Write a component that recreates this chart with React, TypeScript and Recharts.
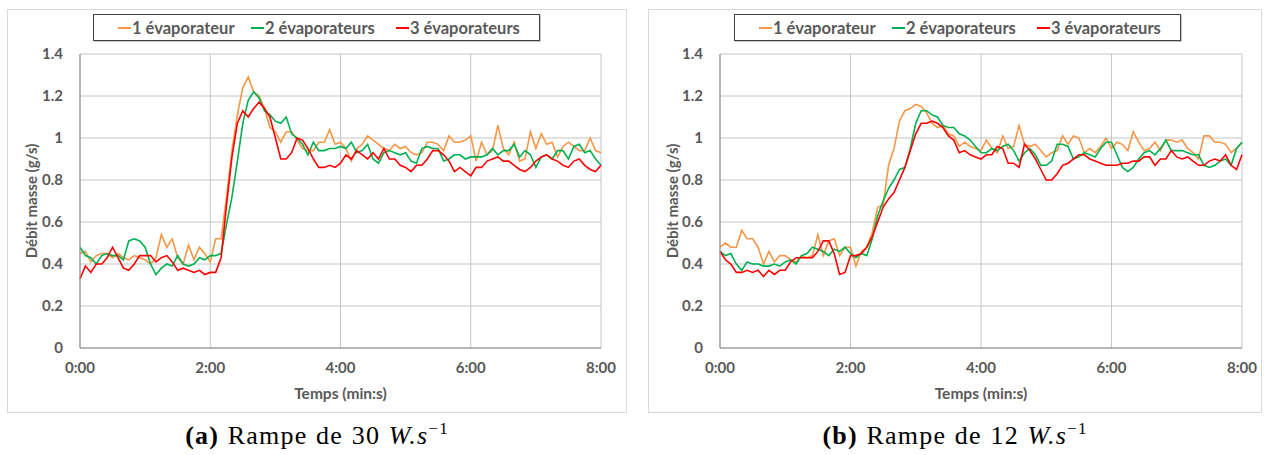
import { CartesianGrid, Label, Line, LineChart, XAxis, YAxis } from "recharts"

// sampling grid: one reading every 5 s over 8 minutes
const TIME = Array.from({ length: 97 }, (_, i) => i * 5)

const Y_TICKS = [0, 0.2, 0.4, 0.6, 0.8, 1, 1.2, 1.4]
const X_TICKS = [0, 120, 240, 360, 480]

const SERIES_NAMES = ["1 évaporateur", "2 évaporateurs", "3 évaporateurs"]
const SERIES_COLORS = ["#F79646", "#00B050", "#FF0000"]

// (a) ramp 30 W/s
const rampA1 = [
  0.45, 0.46, 0.41, 0.44, 0.45, 0.45, 0.43, 0.45, 0.43, 0.42,
  0.44, 0.43, 0.42, 0.4, 0.43, 0.54, 0.48, 0.52, 0.43, 0.4,
  0.49, 0.42, 0.48, 0.45, 0.41, 0.52, 0.52, 0.72, 0.94, 1.11,
  1.24, 1.29, 1.22, 1.2, 1.14, 1.05, 1.03, 0.98, 1.03, 1.03,
  0.99, 0.95, 0.94, 0.94, 0.98, 0.98, 1.04, 0.97, 0.98, 0.95,
  0.89, 0.95, 0.97, 1.01, 0.99, 0.97, 0.95, 0.94, 0.97, 0.95,
  0.96, 0.93, 0.92, 0.93, 0.98, 0.98, 0.97, 0.94, 1.01, 0.98,
  0.98, 0.99, 1.01, 0.89, 0.98, 0.92, 0.94, 1.06, 0.95, 0.92,
  0.98, 0.89, 0.9, 1.03, 0.95, 1.02, 0.97, 0.98, 0.91, 0.96,
  0.98, 0.96, 0.94, 0.94, 1.0, 0.94, 0.93,
]
const rampA2 = [
  0.48, 0.44, 0.43, 0.4, 0.44, 0.45, 0.44, 0.44, 0.42, 0.51,
  0.52, 0.51, 0.48, 0.4, 0.35, 0.38, 0.4, 0.39, 0.44, 0.4,
  0.39, 0.4, 0.43, 0.42, 0.44, 0.44, 0.45, 0.59, 0.72, 0.89,
  1.07, 1.18, 1.22, 1.19, 1.13, 1.11, 1.08, 1.07, 1.1, 1.02,
  1.0, 0.97, 0.92, 0.98, 0.94, 0.94, 0.95, 0.95, 0.96, 0.95,
  0.98, 0.93, 0.94, 0.97, 0.9, 0.88, 0.93, 0.94, 0.93, 0.92,
  0.93, 0.89, 0.88, 0.95, 0.96, 0.95, 0.95, 0.89, 0.9, 0.92,
  0.92, 0.9, 0.91, 0.91, 0.91, 0.92, 0.95, 0.92, 0.94, 0.94,
  0.97, 0.91, 0.94, 0.92, 0.86, 0.91, 0.92, 0.9, 0.94, 0.94,
  0.9, 0.96, 0.97, 0.93, 0.94, 0.9, 0.87,
]
const rampA3 = [
  0.33, 0.39, 0.36, 0.4, 0.4, 0.43, 0.48, 0.43, 0.38, 0.37,
  0.4, 0.44, 0.44, 0.44, 0.41, 0.43, 0.44, 0.41, 0.37, 0.38,
  0.37, 0.36, 0.37, 0.35, 0.36, 0.36, 0.43, 0.68, 0.91, 1.07,
  1.13, 1.1, 1.14, 1.17, 1.14, 1.1, 1.0, 0.9, 0.9, 0.93,
  1.0, 0.99, 0.95, 0.9, 0.86, 0.86, 0.87, 0.86, 0.88, 0.92,
  0.9, 0.94, 0.92, 0.9, 0.93, 0.9, 0.95, 0.9, 0.9, 0.87,
  0.86, 0.84, 0.87, 0.87, 0.9, 0.94, 0.94, 0.92, 0.89, 0.84,
  0.86, 0.84, 0.82, 0.86, 0.86, 0.89, 0.9, 0.91, 0.89, 0.89,
  0.87, 0.85, 0.84, 0.86, 0.89, 0.91, 0.92, 0.9, 0.89, 0.87,
  0.86, 0.89, 0.9, 0.87, 0.85, 0.84, 0.87,
]

// (b) ramp 12 W/s
const rampB1 = [
  0.48, 0.5, 0.48, 0.48, 0.56, 0.52, 0.52, 0.48, 0.4, 0.46,
  0.41, 0.44, 0.44, 0.42, 0.41, 0.44, 0.43, 0.44, 0.54, 0.44,
  0.51, 0.52, 0.44, 0.48, 0.48, 0.39, 0.46, 0.48, 0.55, 0.67,
  0.68, 0.87, 0.95, 1.08, 1.13, 1.14, 1.16, 1.15, 1.12, 1.07,
  1.05, 1.06, 1.02, 1.01, 0.96, 0.98, 0.96, 0.95, 0.94, 0.99,
  0.95, 0.93, 1.01, 0.95, 0.96, 1.06, 0.97, 0.96, 0.97, 0.94,
  0.91, 0.93, 0.94, 1.01, 0.97, 1.01, 1.0, 0.93, 0.95, 0.93,
  0.96, 1.0, 0.95, 0.98, 0.97, 0.94, 1.03, 0.98, 0.94, 0.95,
  0.98, 0.94, 0.99, 0.99, 0.98, 0.99, 0.95, 0.93, 0.9, 1.01,
  1.01, 0.98, 0.98, 0.97, 0.93, 0.95, 0.98,
]
const rampB2 = [
  0.46, 0.44, 0.45, 0.4, 0.37, 0.41, 0.4, 0.4, 0.39, 0.39,
  0.4, 0.39, 0.41, 0.42, 0.4, 0.44, 0.45, 0.48, 0.47, 0.46,
  0.44, 0.47, 0.46, 0.48, 0.45, 0.43, 0.45, 0.44, 0.52, 0.63,
  0.7, 0.76, 0.8, 0.85, 0.86, 0.95, 1.07, 1.13, 1.13, 1.11,
  1.1, 1.06, 1.05, 1.05, 1.02, 1.01, 0.99, 0.96, 0.93, 0.93,
  0.95, 0.94, 0.96, 0.97, 0.94, 0.89, 0.93, 0.95, 0.92, 0.87,
  0.87, 0.89, 0.97, 0.97, 0.96, 0.9, 0.91, 0.93, 0.92, 0.91,
  0.95, 0.98, 0.98, 0.92, 0.86, 0.84, 0.86, 0.9, 0.93, 0.94,
  0.92, 0.95, 0.99, 0.94, 0.94, 0.94, 0.93, 0.92, 0.92, 0.87,
  0.86, 0.87, 0.89, 0.9, 0.87, 0.95, 0.98,
]
const rampB3 = [
  0.46, 0.42, 0.4, 0.36, 0.36, 0.37, 0.36, 0.37, 0.34, 0.37,
  0.35, 0.37, 0.37, 0.41, 0.43, 0.43, 0.43, 0.43, 0.46, 0.51,
  0.51, 0.45, 0.35, 0.36, 0.44, 0.44, 0.45, 0.48, 0.53, 0.6,
  0.67, 0.71, 0.74, 0.8, 0.86, 0.94, 1.02, 1.07, 1.07, 1.08,
  1.07, 1.05, 1.01, 0.99, 0.93, 0.94, 0.92, 0.91, 0.9, 0.92,
  0.92, 0.96, 0.95, 0.88, 0.88, 0.86, 0.97, 0.94, 0.9, 0.85,
  0.8, 0.8, 0.83, 0.87, 0.88, 0.9, 0.92, 0.92, 0.9, 0.89,
  0.88, 0.87, 0.87, 0.87, 0.88, 0.88, 0.89, 0.89, 0.91, 0.91,
  0.87, 0.9, 0.9, 0.94, 0.91, 0.9, 0.91, 0.89, 0.87, 0.87,
  0.89, 0.9, 0.89, 0.92, 0.87, 0.85, 0.92,
]

const FONT = "Lato, 'Open Sans', sans-serif"
const GREY = "#595959"

const buildRows = (s1: number[], s2: number[], s3: number[]) =>
  TIME.map((t, i) => ({ t, s1: s1[i], s2: s2[i], s3: s3[i] }))

const fmtTime = (v: number) => `${Math.round(v / 60)}:00`

type PanelProps = {
  left: number
  width: number
  plotLeft: number
  plotRight: number
  rows: { t: number; s1: number; s2: number; s3: number }[]
  tag: string
  rate: string
}

function LegendBox(props: { left: number }) {
  const starts = [24, 157, 302]
  return (
    <div
      style={{
        position: "absolute",
        left: props.left,
        top: 14,
        width: 447,
        height: 27,
        boxSizing: "border-box",
        border: "1px solid #404040",
        boxShadow: "1px 1px 0 #c8c8c8",
        background: "#fff",
      }}
    >
      {SERIES_NAMES.map((name, i) => (
        <div
          key={name}
          style={{
            position: "absolute",
            left: starts[i],
            top: 0,
            height: 25,
            display: "flex",
            alignItems: "center",
            fontFamily: FONT,
            fontWeight: 700,
            fontSize: 16.5,
            color: GREY,
            whiteSpace: "nowrap",
          }}
        >
          <span style={{ display: "inline-block", width: 13, height: 2, background: SERIES_COLORS[i], marginRight: 1 }} />
          {name}
        </div>
      ))}
    </div>
  )
}

function Panel(props: PanelProps) {
  const chartH = 404
  return (
    <>
      <div
        style={{
          position: "absolute",
          left: props.left,
          top: 9,
          width: props.width,
          height: chartH,
          boxSizing: "border-box",
          border: "1px solid #d9d9d9",
        }}
      />
      <div style={{ position: "absolute", left: props.left, top: 9 }}>
        <LineChart
          width={props.width}
          height={chartH}
          data={props.rows}
          margin={{ top: 45, right: props.width - props.plotRight, bottom: 0, left: 0 }}
        >
          <CartesianGrid stroke="#c4c4c4" strokeWidth={1} verticalValues={X_TICKS} horizontalValues={Y_TICKS} />
          <XAxis
            dataKey="t"
            type="number"
            domain={[0, 480]}
            ticks={X_TICKS}
            tickFormatter={fmtTime}
            height={65}
            stroke="#8c8c8c"
            tickLine={false}
            tickSize={6}
            tickMargin={8}
            tick={{ fill: GREY, fontSize: 15, fontWeight: 700, fontFamily: FONT }}
          >
            <Label
              content={({ viewBox }: any) => (
                <text
                  x={viewBox.x + viewBox.width / 2}
                  y={viewBox.y + 45}
                  textAnchor="middle"
                  dominantBaseline="central"
                  fill={GREY}
                  fontSize={15.5}
                  fontWeight={700}
                  fontFamily={FONT}
                >
                  Temps (min:s)
                </text>
              )}
            />
          </XAxis>
          <YAxis
            type="number"
            domain={[0, 1.4]}
            ticks={Y_TICKS}
            width={props.plotLeft}
            stroke="#8c8c8c"
            tickLine={false}
            tickSize={6}
            tickMargin={11}
            tick={{ fill: GREY, fontSize: 15, fontWeight: 700, fontFamily: FONT }}
          >
            <Label
              content={({ viewBox }: any) => {
                const cx = viewBox.x + 24
                const cy = viewBox.y + viewBox.height / 2
                return (
                  <text
                    x={cx}
                    y={cy}
                    transform={`rotate(-90 ${cx} ${cy})`}
                    textAnchor="middle"
                    dominantBaseline="central"
                    fill={GREY}
                    fontSize={15}
                    fontWeight={700}
                    fontFamily={FONT}
                  >
                    Débit masse (g/s)
                  </text>
                )
              }}
            />
          </YAxis>
          <Line dataKey="s1" stroke={SERIES_COLORS[0]} strokeWidth={1.6} dot={false} isAnimationActive={false} />
          <Line dataKey="s2" stroke={SERIES_COLORS[1]} strokeWidth={1.6} dot={false} isAnimationActive={false} />
          <Line dataKey="s3" stroke={SERIES_COLORS[2]} strokeWidth={1.6} dot={false} isAnimationActive={false} />
        </LineChart>
      </div>
      <LegendBox left={props.left + 86} />
      <div
        style={{
          position: "absolute",
          left: props.left,
          top: 421,
          width: props.width,
          height: 30,
          textAlign: "center",
          fontFamily: "'Liberation Serif', 'DejaVu Serif', serif",
          fontSize: 26,
          lineHeight: "30px",
          letterSpacing: 1.2,
          wordSpacing: 1,
          color: "#000",
          whiteSpace: "nowrap",
        }}
      >
        <b>{props.tag}</b> Rampe de {props.rate} <i>W.s</i>
        <sup style={{ fontSize: 17, lineHeight: 0, verticalAlign: "10px" }}>−1</sup>
      </div>
    </>
  )
}

export default function App() {
  return (
    <div style={{ position: "absolute", left: 0, top: 0, width: 1268, height: 455, background: "#fff", overflow: "hidden" }}>
      <Panel
        left={7}
        width={620}
        plotLeft={73}
        plotRight={594}
        rows={buildRows(rampA1, rampA2, rampA3)}
        tag="(a)"
        rate="30"
      />
      <Panel
        left={648}
        width={614}
        plotLeft={72}
        plotRight={594}
        rows={buildRows(rampB1, rampB2, rampB3)}
        tag="(b)"
        rate="12"
      />
    </div>
  )
}
